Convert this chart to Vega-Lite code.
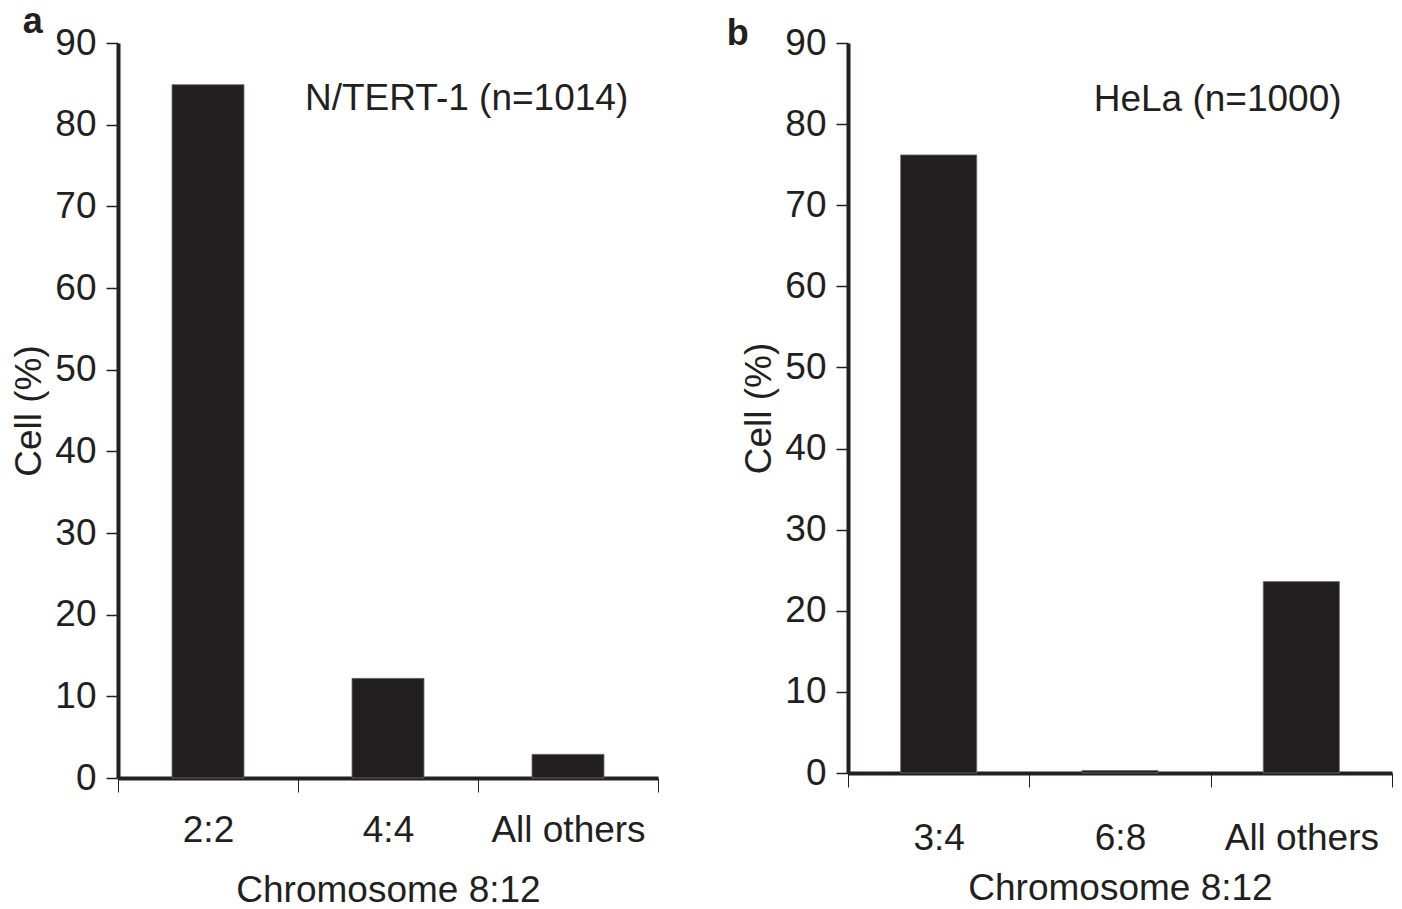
{
  "$schema": "https://vega.github.io/schema/vega-lite/v6.json",
  "background": "white",
  "padding": {"left": 10, "top": 4, "right": 5, "bottom": 5},
  "spacing": 67,
  "config": {
    "font": "Liberation Sans",
    "view": {"stroke": null},
    "title": {"font": "Liberation Sans", "fontSize": 36, "fontWeight": "bold", "color": "#231f20", "anchor": "start", "frame": "bounds"},
    "axis": {
      "labelFont": "Liberation Sans", "titleFont": "Liberation Sans",
      "labelColor": "#231f20", "titleColor": "#231f20",
      "labelFontSize": 37, "titleFontSize": 37, "titleFontWeight": "normal",
      "domainColor": "#231f20", "domainWidth": 4,
      "tickColor": "#231f20", "tickWidth": 1.5, "grid": false
    },
    "axisX": {"labelAngle": 0, "tickBand": "extent", "tickSize": 14, "tickWidth": 1},
    "axisY": {"tickSize": 12, "labelPadding": 10, "titlePadding": 6}
  },
  "hconcat": [
    {
      "width": 540,
      "height": 735,
      "title": {"text": "a", "offset": -17, "dx": 12},
      "layer": [
        {
          "data": {"values": [
            {"cat": "2:2", "pct": 84.9},
            {"cat": "4:4", "pct": 12.2},
            {"cat": "All others", "pct": 2.9}
          ]},
          "mark": {"type": "bar", "width": {"band": 0.4}, "color": "#231f20", "stroke": "#6d6e71", "strokeWidth": 0.8},
          "encoding": {
            "x": {"field": "cat", "type": "nominal", "sort": null, "title": "Chromosome 8:12",
                  "axis": {"labelPadding": 20, "titlePadding": 24},
                  "scale": {"domain": ["2:2", "4:4", "All others"], "paddingInner": 0, "paddingOuter": 0}},
            "y": {"field": "pct", "type": "quantitative", "title": "Cell (%)",
                  "axis": {"values": [0, 10, 20, 30, 40, 50, 60, 70, 80, 90]},
                  "scale": {"domain": [0, 90], "nice": false}}
          }
        },
        {
          "data": {"values": [{"cat": "4:4", "pct": 83.1, "note": "N/TERT-1 (n=1014)"}]},
          "mark": {"type": "text", "align": "left", "baseline": "middle", "fontSize": 37, "color": "#231f20", "dx": 7},
          "encoding": {
            "x": {"field": "cat", "type": "nominal", "bandPosition": 0},
            "y": {"field": "pct", "type": "quantitative"},
            "text": {"field": "note"}
          }
        }
      ]
    },
    {
      "width": 544,
      "height": 730,
      "title": {"text": "b", "offset": -29, "dx": -14},
      "layer": [
        {
          "data": {"values": [
            {"cat": "3:4", "pct": 76.2},
            {"cat": "6:8", "pct": 0.3},
            {"cat": "All others", "pct": 23.6}
          ]},
          "mark": {"type": "bar", "width": {"band": 0.42}, "color": "#231f20", "stroke": "#6d6e71", "strokeWidth": 0.8},
          "encoding": {
            "x": {"field": "cat", "type": "nominal", "sort": null, "title": "Chromosome 8:12",
                  "axis": {"labelPadding": 33, "titlePadding": 14},
                  "scale": {"domain": ["3:4", "6:8", "All others"], "paddingInner": 0, "paddingOuter": 0}},
            "y": {"field": "pct", "type": "quantitative", "title": "Cell (%)",
                  "axis": {"values": [0, 10, 20, 30, 40, 50, 60, 70, 80, 90]},
                  "scale": {"domain": [0, 90], "nice": false}}
          }
        },
        {
          "data": {"values": [{"cat": "All others", "pct": 83, "note": "HeLa (n=1000)"}]},
          "mark": {"type": "text", "align": "center", "baseline": "middle", "fontSize": 37, "color": "#231f20", "dx": 7},
          "encoding": {
            "x": {"field": "cat", "type": "nominal", "bandPosition": 0},
            "y": {"field": "pct", "type": "quantitative"},
            "text": {"field": "note"}
          }
        }
      ]
    }
  ]
}
